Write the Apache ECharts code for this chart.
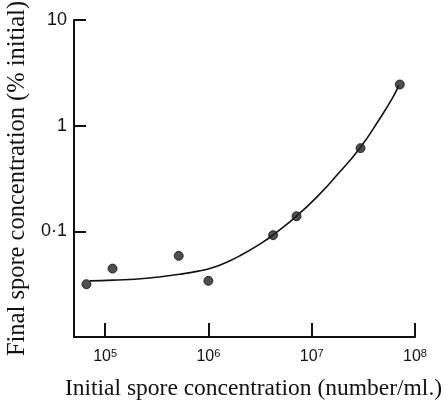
<!DOCTYPE html>
<html>
<head>
<meta charset="utf-8">
<script src="https://cdn.jsdelivr.net/npm/echarts@6/dist/echarts.min.js"></script>
<style>html,body{margin:0;padding:0;background:#fff;}#c{width:446px;height:409px;}</style>
</head>
<body>
<div id="c"></div>
<script>
// Observed data points (initial spore conc. number/ml, final conc. % initial)
var pointX = [6.6e4, 1.18e5, 5.16e5, 1.0e6, 4.23e6, 7.13e6, 2.97e7, 7.13e7];
var pointY = [0.0316, 0.0444, 0.0586, 0.034, 0.092, 0.139, 0.613, 2.45];
// Fitted curve
var curveX = [7.1e4, 1.19e5, 2.52e5, 5.29e5, 8.0e5, 1.11e6, 1.5e6, 2.01e6, 3.15e6, 4.23e6, 7.13e6, 1.2e7, 1.8e7, 2.92e7, 4.57e7, 6.14e7, 6.97e7];
var curveY = [0.034, 0.0345, 0.036, 0.0393, 0.042, 0.0454, 0.051, 0.0586, 0.0757, 0.0923, 0.139, 0.226, 0.35, 0.612, 1.17, 1.87, 2.42];
// Tick labels
var xTickExp = [5, 6, 7, 8];
var yTickLabels = {"10": "10", "1": "1", "0.1": "0·1"};
var xTitle = "Initial spore concentration (number/ml.)";
var yTitle = "Final spore concentration (% initial)";

function zip(a, b) { return a.map(function (v, i) { return [v, b[i]]; }); }

var chart = echarts.init(document.getElementById('c'), null, {renderer: 'canvas'});
chart.setOption({
  animation: false,
  backgroundColor: '#fff',
  grid: {left: 74, right: 31, top: 20, bottom: 72, containLabel: false, outerBoundsMode: 'none'},
  xAxis: {
    type: 'log', logBase: 10, min: 50000, max: 1e8,
    name: xTitle, nameLocation: 'middle', nameGap: 40,
    nameTextStyle: {fontFamily: 'Liberation Serif', fontSize: 23.5, color: '#111', padding: [0, 0, 0, 18]},
    axisLine: {lineStyle: {color: '#111', width: 2}},
    axisTick: {inside: true, length: 14, lineStyle: {color: '#111', width: 2}},
    splitLine: {show: false},
    minorTick: {show: false},
    axisLabel: {
      margin: 11, color: '#111',
      rich: {
        b: {fontFamily: 'Liberation Sans', fontSize: 16, color: '#111'},
        s: {fontFamily: 'Liberation Sans', fontSize: 11, color: '#111', padding: [0, 0, 7, 0]}
      },
      formatter: function (v) {
        var e = Math.log10(v), r = Math.round(e);
        if (Math.abs(e - r) > 1e-6 || xTickExp.indexOf(r) < 0) return '';
        return '{b|10}{s|' + r + '}';
      }
    }
  },
  yAxis: {
    type: 'log', logBase: 10, min: 0.01, max: 10,
    name: yTitle, nameLocation: 'middle', nameGap: 44, nameRotate: 90,
    nameTextStyle: {fontFamily: 'Liberation Serif', fontSize: 24.5, color: '#111'},
    axisLine: {lineStyle: {color: '#111', width: 2}},
    axisTick: {inside: true, length: 12, lineStyle: {color: '#111', width: 2}},
    splitLine: {show: false},
    axisLabel: {
      margin: 7, fontFamily: 'Liberation Sans', fontSize: 18, color: '#111',
      formatter: function (v) {
        var e = Math.log10(v), r = Math.round(e);
        if (Math.abs(e - r) > 1e-6) return '';
        var key = String(parseFloat(Math.pow(10, r).toFixed(Math.max(0, -r))));
        return yTickLabels[key] || '';
      }
    }
  },
  series: [
    {
      type: 'line', data: zip(curveX, curveY), smooth: 0.5, showSymbol: false,
      lineStyle: {color: '#111', width: 1.6}, z: 2
    },
    {
      type: 'scatter', data: zip(pointX, pointY), symbol: 'circle', symbolSize: 9,
      itemStyle: {color: '#222', borderColor: '#111', borderWidth: 1}, z: 3
    }
  ]
});
</script>
</body>
</html>
